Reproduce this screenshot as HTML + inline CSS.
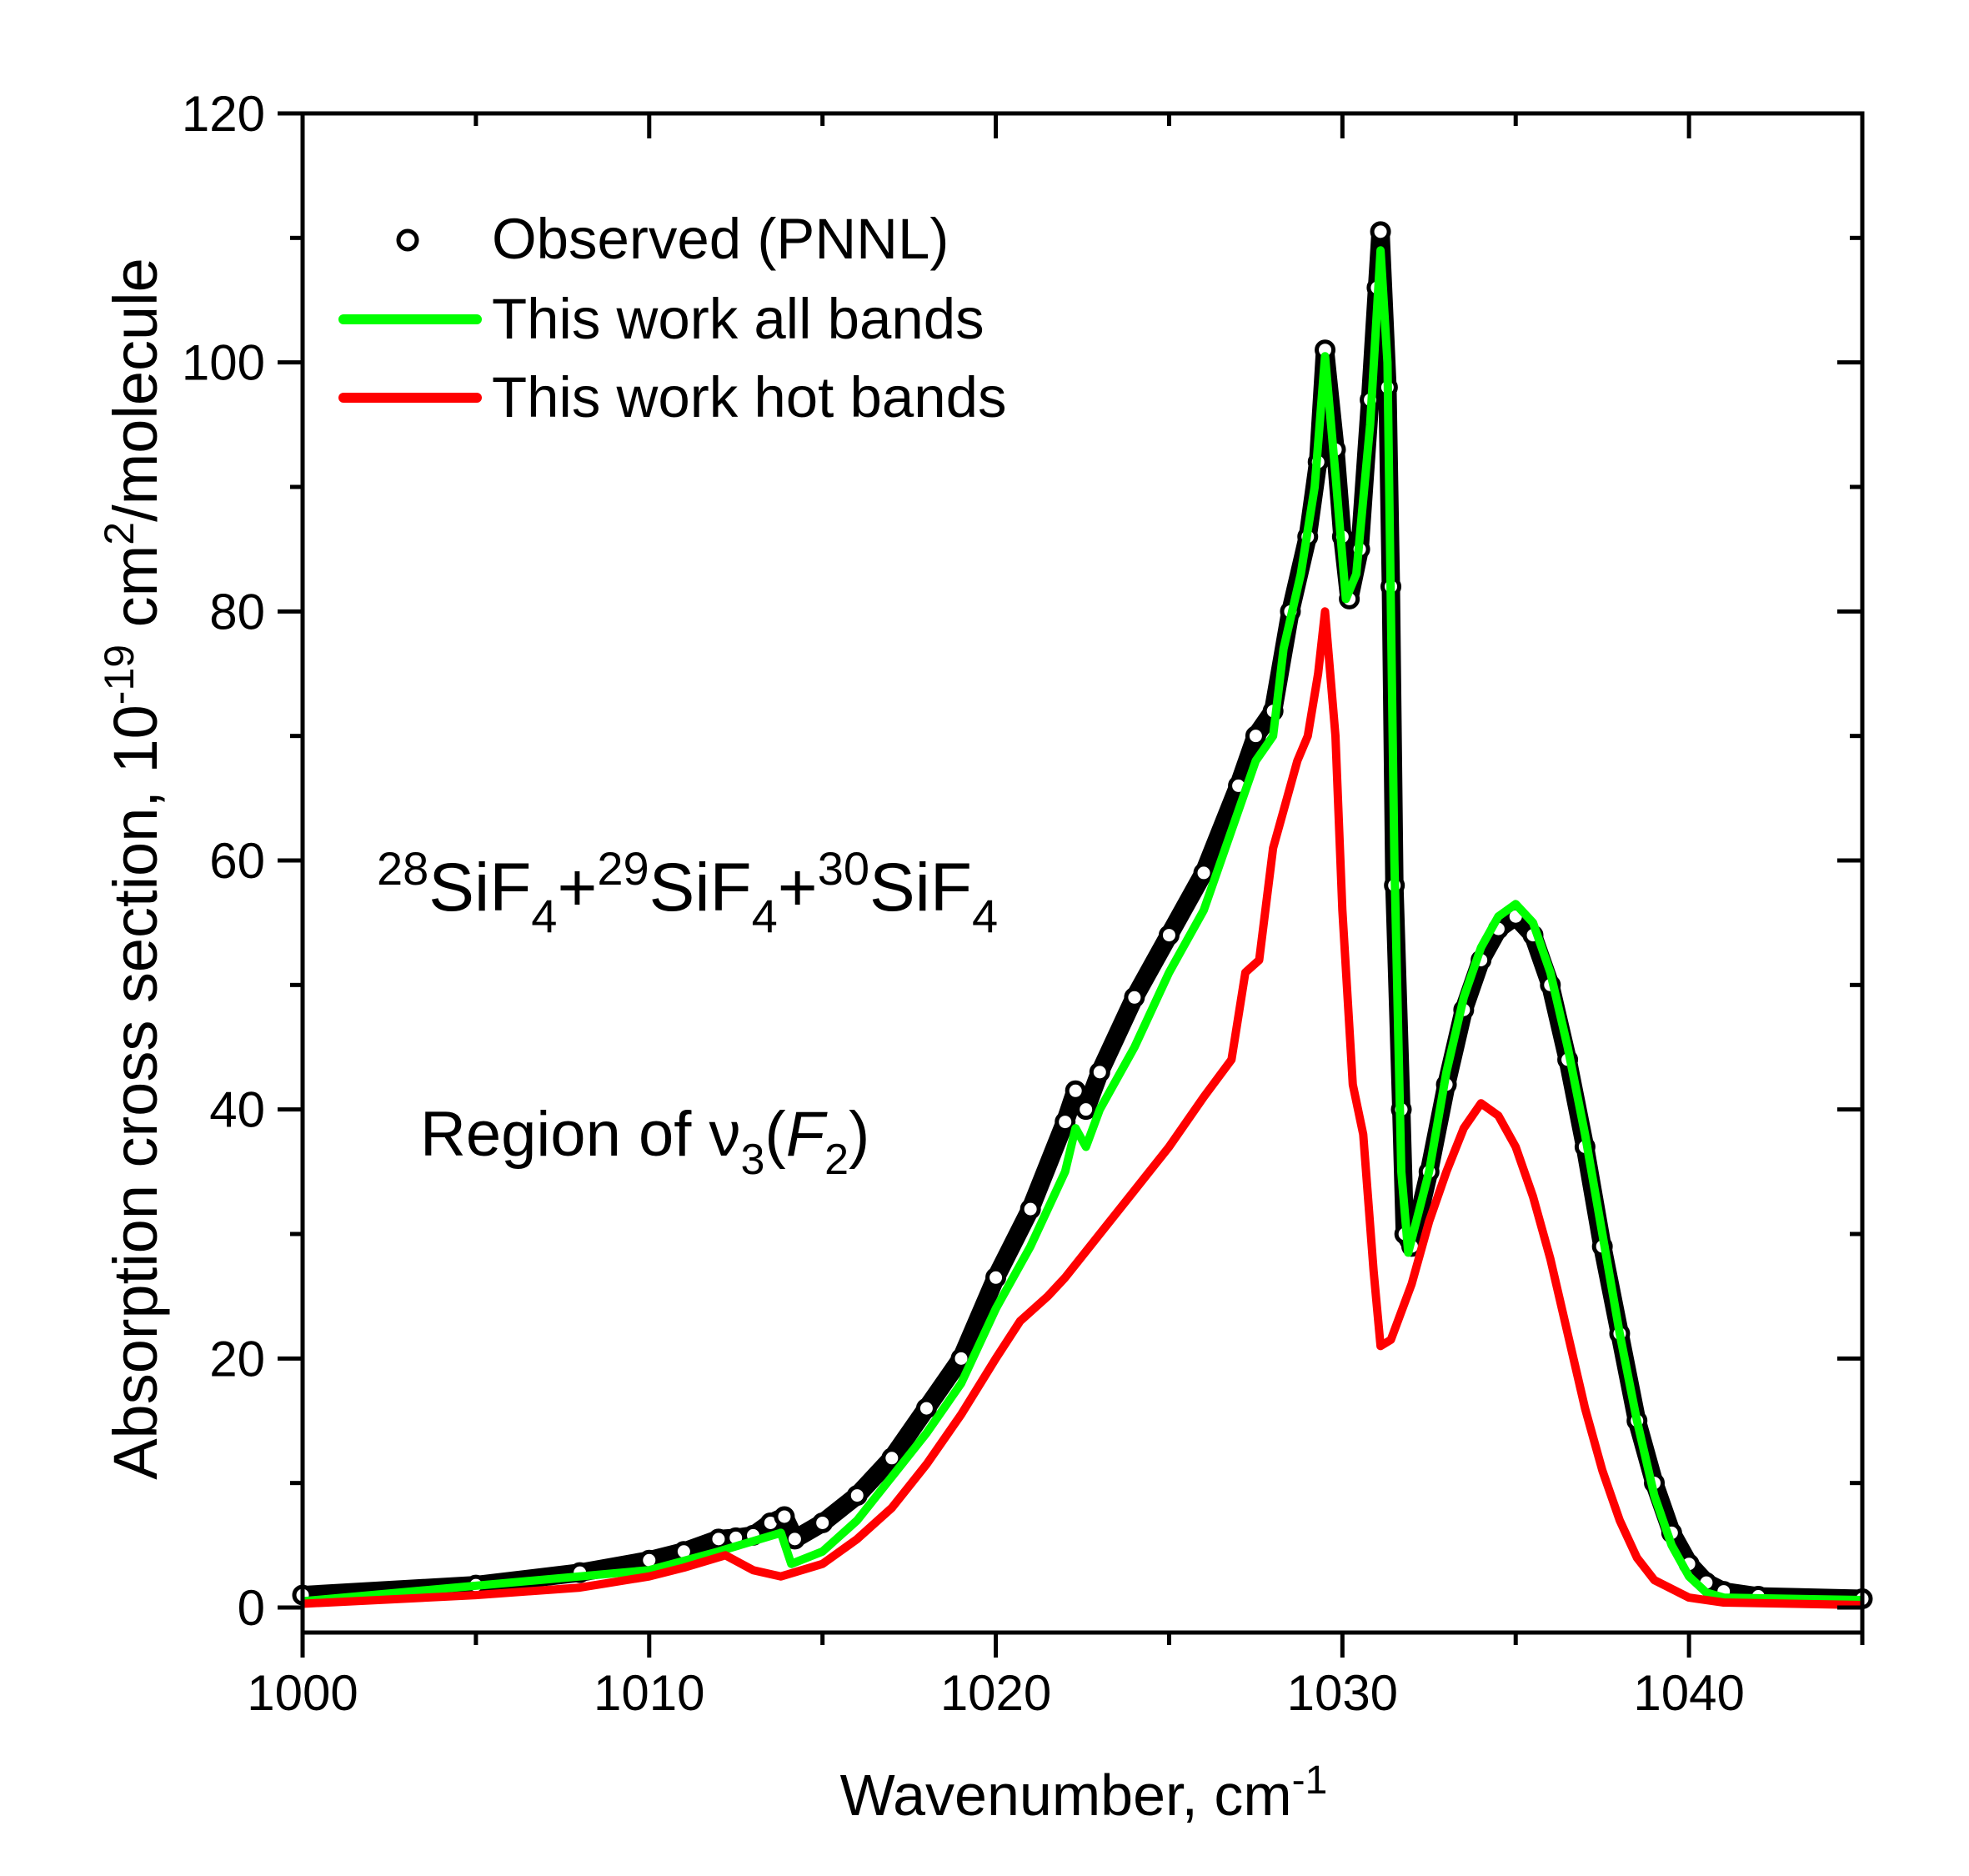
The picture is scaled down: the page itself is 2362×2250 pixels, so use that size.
<!DOCTYPE html>
<html><head><meta charset="utf-8"><style>
html,body{margin:0;padding:0;background:#fff;}
svg{display:block;font-family:"Liberation Sans",Arial,sans-serif;}
</style></head><body>
<svg id="chart" width="2362" height="2250" viewBox="0 0 2362 2250">
<g id="plot"></g>
<g id="axes"></g>
<g>
 <circle cx="489" cy="288" r="11" fill="none" stroke="#000" stroke-width="5"/>
 <text x="590" y="310" font-size="69">Observed (PNNL)</text>
 <line x1="412" y1="383" x2="572" y2="383" stroke="#00ff00" stroke-width="12" stroke-linecap="round"/>
 <text x="590" y="406" font-size="69">This work all bands</text>
 <line x1="412" y1="477" x2="572" y2="477" stroke="#ff0000" stroke-width="12" stroke-linecap="round"/>
 <text x="590" y="500" font-size="69">This work hot bands</text>
</g>
<text x="452" y="1092" font-size="82"><tspan baseline-shift="super" font-size="56">28</tspan>SiF<tspan dy="26" font-size="56">4</tspan><tspan dy="-26">+</tspan><tspan baseline-shift="super" font-size="56">29</tspan>SiF<tspan dy="26" font-size="56">4</tspan><tspan dy="-26">+</tspan><tspan baseline-shift="super" font-size="56">30</tspan>SiF<tspan dy="26" font-size="56">4</tspan></text>
<text x="504" y="1386" font-size="76">Region of ν<tspan dy="22" font-size="52">3</tspan><tspan dy="-22">(</tspan><tspan font-style="italic">F</tspan><tspan dy="22" font-size="52">2</tspan><tspan dy="-22">)</tspan></text>
<text x="1300" y="2177" font-size="70" text-anchor="middle">Wavenumber, cm<tspan dy="-26" font-size="48">-1</tspan></text>
<text transform="translate(188,1042) rotate(-90)" font-size="74" text-anchor="middle">Absorption cross section, 10<tspan dy="-28" font-size="50">-19</tspan><tspan dy="28"> cm</tspan><tspan dy="-28" font-size="50">2</tspan><tspan dy="28">/molecule</tspan></text>
</svg>
<script>
const obsX=[1000,1005,1008,1010,1011,1012,1012.5,1013,1013.5,1013.9,1014.2,1015,1016,1017,1018,1019,1020,1021,1022,1022.3,1022.6,1023,1024,1025,1026,1027,1027.5,1028,1028.5,1029,1029.3,1029.5,1029.8,1030,1030.2,1030.5,1030.8,1031,1031.1,1031.3,1031.4,1031.5,1031.7,1031.8,1032,1032.5,1033,1033.5,1034,1034.5,1035,1035.5,1036,1036.5,1037,1037.5,1038,1038.5,1039,1039.5,1040,1040.5,1041,1042,1045];
const obsY=[1,1.8,2.8,3.8,4.5,5.5,5.6,5.8,6.8,7.3,5.5,6.8,9,12,16,20,26.5,32,39,41.5,40,43,49,54,59,66,70,72,80,86,92,101,93,86,81,85,97,106,110.5,98,82,58,40,30,29,35,42,48,52,54.5,55.5,54,50,44,37,29,22,15,10,6,3.5,2,1.3,0.9,0.7];
const allX=[1000,1010,1012,1013.8,1014.1,1015,1016,1017,1018,1019,1020,1021,1022,1022.3,1022.6,1023,1024,1025,1026,1027,1027.5,1028,1028.3,1028.8,1029.2,1029.5,1029.8,1030.1,1030.4,1030.8,1031.1,1031.3,1031.5,1031.7,1031.9,1032.5,1033,1033.5,1034,1034.5,1035,1035.5,1036,1036.5,1037,1037.5,1038,1038.5,1039,1039.5,1040,1040.5,1041,1045];
const allY=[0.5,3,4.5,6,3.5,4.5,7,10.5,14,18,24,29,35,38.5,37,40,45,51,56,64,68,70,77,83,90,100.5,91,81,83,95,109,100,60,35,28.5,35,43,49,53,55.5,56.5,55,51,45,38,30,22,15,9,5,2.5,1.2,0.8,0.6];
const hotX=[1000,1005,1008,1010,1011,1012.2,1013,1013.8,1015,1016,1017,1018,1019,1020,1020.7,1021.5,1022,1023,1024,1025,1026,1026.8,1027.2,1027.6,1028,1028.3,1028.7,1029,1029.3,1029.5,1029.8,1030,1030.3,1030.6,1030.9,1031.1,1031.4,1032,1032.5,1033,1033.5,1034,1034.5,1035,1035.5,1036,1036.5,1037,1037.5,1038,1038.5,1039,1040,1041,1045];
const hotY=[0.3,1,1.6,2.5,3.2,4.2,3,2.5,3.5,5.5,8,11.5,15.5,20,23,25,26.5,30,33.5,37,41,44,51,52,61,64,68,70,75,80,70,56,42,38,27,21,21.5,26,31,35,38.5,40.5,39.5,37,33,28,22,16,11,7,4,2.2,0.8,0.4,0.2];
const xTicks=[1000,1010,1020,1030,1040];
const yTicks=[0,20,40,60,80,100,120];
const L=363,R=2234,T=136,B=1958,Y0=1928,YT=136;
const sx=v=>L+(v-1000)*(R-L)/45;
const sy=v=>Y0-v*(Y0-YT)/120;
const NS="http://www.w3.org/2000/svg";
const plot=document.getElementById('plot'),axes=document.getElementById('axes');
function mk(tag,attrs,parent){const e=document.createElementNS(NS,tag);for(const k in attrs)e.setAttribute(k,attrs[k]);parent.appendChild(e);return e;}
function pts(xs,ys){return xs.map((x,i)=>sx(x).toFixed(1)+','+sy(ys[i]).toFixed(1)).join(' ');}
const ob=mk('polyline',{points:pts(obsX,obsY),fill:'none',stroke:'#000','stroke-width':22,'stroke-linejoin':'round'},plot);


obsX.forEach((x,i)=>{const c=mk('circle',{cx:sx(x),cy:sy(obsY[i]),r:10,fill:'#fff',stroke:'#000','stroke-width':5},plot);

});
const g=mk('polyline',{points:pts(allX,allY),fill:'none',stroke:'#00ff00','stroke-width':10,'stroke-linejoin':'round'},plot);


const r=mk('polyline',{points:pts(hotX,hotY),fill:'none',stroke:'#ff0000','stroke-width':10,'stroke-linejoin':'round'},plot);


const fr=mk('rect',{x:L,y:T,width:R-L,height:B-T,fill:'none',stroke:'#000','stroke-width':5},axes);


for(let v=1000;v<=1045;v+=5){const maj=v%10===0;const x=sx(v);
mk('line',{x1:x,y1:B,x2:x,y2:B+(maj?30:15),stroke:'#000','stroke-width':5},axes);
mk('line',{x1:x,y1:T,x2:x,y2:T+(maj?30:15),stroke:'#000','stroke-width':5},axes);}
for(let v=0;v<=120;v+=10){const maj=v%20===0;const y=sy(v);
mk('line',{x1:L,y1:y,x2:L-(maj?30:15),y2:y,stroke:'#000','stroke-width':5},axes);
mk('line',{x1:R,y1:y,x2:R-(maj?30:15),y2:y,stroke:'#000','stroke-width':5},axes);}
xTicks.forEach(v=>{const t=mk('text',{x:sx(v),y:2051,'font-size':60,'text-anchor':'middle'},axes);t.textContent=v;

});
yTicks.forEach(v=>{const t=mk('text',{x:318,y:sy(v)+21,'font-size':60,'text-anchor':'end'},axes);t.textContent=v;

});
</script>
</body></html>
